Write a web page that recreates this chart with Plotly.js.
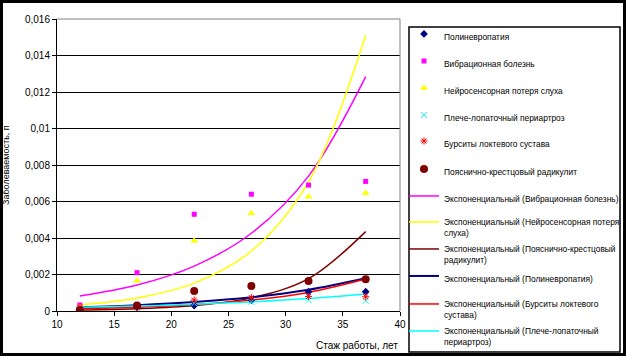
<!DOCTYPE html>
<html><head><meta charset="utf-8">
<script src="https://cdn.plot.ly/plotly-3.0.1.min.js"></script>
<style>
html,body{margin:0;padding:0;background:#fff;}
#chart{width:626px;height:356px;position:absolute;left:0;top:0;}
#frame{position:absolute;left:0;top:0;width:626px;height:356px;box-sizing:border-box;border-style:solid;border-color:#000;border-width:3px 3px 3px 3px;pointer-events:none;}
</style></head><body>
<div id="chart"></div><div id="frame"></div>
<script>
// Data
const stazh = [12, 17, 22, 27, 32, 37];
const polyneuropathy = [0.00005, 0.0002, 0.0003, 0.0006, 0.00106, 0.00106];
const vibration = [0.00033, 0.0021, 0.0053, 0.0064, 0.0069, 0.0071];
const neurosensory = [0.0002, 0.00166, 0.00385, 0.00535, 0.00626, 0.00645];
const shoulder = [0.0001, 0.0002, 0.00042, 0.0005, 0.0006, 0.00056];
const bursitis = [0.0002, 0.0002, 0.0006, 0.00073, 0.0008, 0.00078];
const radiculitis = [0.00005, 0.0003, 0.0011, 0.00137, 0.00164, 0.00174];
// Exponential trendlines
const trendVibration = [0.00082, 0.00142, 0.00246, 0.00426, 0.00739, 0.01284];
const trendNeurosensory = [0.00033, 0.00071, 0.00153, 0.00329, 0.00708, 0.01512];
const trendRadiculitis = [0.00005, 0.000121, 0.000296, 0.00072, 0.00177, 0.00435];
const trendPolyneuropathy = [0.00021, 0.00032, 0.00049, 0.00075, 0.00116, 0.00179];
const trendBursitis = [0.00012, 0.0002, 0.00035, 0.0006, 0.00102, 0.00175];
const trendShoulder = [0.0002, 0.00027, 0.00037, 0.0005, 0.00068, 0.00093];
const yTickVals = [0, 0.002, 0.004, 0.006, 0.008, 0.01, 0.012, 0.014, 0.016];
const yTickText = ["0", "0,002", "0,004", "0,006", "0,008", "0,01", "0,012", "0,014", "0,016"];
const xTickVals = [10, 15, 20, 25, 30, 35, 40];

const names = {
  poly: "Полиневропатия",
  vib: "Вибрационная болезнь",
  neuro: "Нейросенсорная потеря слуха",
  shoulder: "Плече-лопаточный периартроз",
  burs: "Бурситы локтевого сустава",
  rad: "Пояснично-крестцовый радикулит"
};

function legName(i) { return i === 1 ? 'legend' : 'legend' + i; }
function trend(y, color, width, name, idx) {
  return {x: stazh, y: y, mode: 'lines', line: {color: color, width: width, shape: 'spline'},
    name: name, legend: legName(idx)};
}
function pts(y, sym, color, size, name, idx, lineColor, lineW) {
  return {x: stazh, y: y, mode: 'markers', name: name, legend: legName(idx),
    marker: {symbol: sym, color: color, size: size, line: {color: lineColor || color, width: lineW || 0}}};
}

const data = [
  trend(trendVibration, '#FF00FF', 1.5, 'Экспоненциальный (Вибрационная болезнь)', 7),
  trend(trendNeurosensory, '#FFFF00', 1.5, 'Экспоненциальный (Нейросенсорная потеря<br>слуха)', 8),
  trend(trendRadiculitis, '#800000', 1.5, 'Экспоненциальный (Пояснично-крестцовый<br>радикулит)', 9),
  trend(trendPolyneuropathy, '#000080', 2, 'Экспоненциальный (Полиневропатия)', 10),
  trend(trendBursitis, '#FF0000', 1.5, 'Экспоненциальный (Бурситы локтевого<br>сустава)', 11),
  trend(trendShoulder, '#00FFFF', 1.5, 'Экспоненциальный (Плече-лопаточный<br>периартроз)', 12),
  pts(polyneuropathy, 'diamond', '#000080', 6, names.poly, 1),
  pts(vibration, 'square', '#FF00FF', 5, names.vib, 2),
  pts(neurosensory, 'triangle-up', '#FFFF00', 7, names.neuro, 3),
  pts(shoulder, 'x-thin-open', '#00FFFF', 6, names.shoulder, 4, '#00FFFF', 1),
  pts(bursitis, 'asterisk-open', '#FF0000', 6, names.burs, 5, '#FF0000', 1),
  pts(radiculitis, 'circle', '#800000', 8, names.rad, 6)
];

const L = 57, R = 400, T = 19, B = 311;
const pw = R - L, ph = B - T;
const px = v => (v - L) / pw;
const py = v => (B - v) / ph;

// first-line centres of legend entries (pixels)
const legendCentres = [37, 64, 91, 118, 144, 172, 199, 225, 252, 279, 307, 334];

const layout = {
  width: 626, height: 356,
  margin: {l: L, r: 626 - R, t: T, b: 356 - B, autoexpand: false},
  paper_bgcolor: '#fff', plot_bgcolor: '#fff',
  font: {family: 'Liberation Sans, Arial, sans-serif', size: 10, color: '#000'},
  showlegend: true,
  hovermode: false,
  xaxis: {range: [10, 40], tickvals: xTickVals, ticks: 'outside', ticklen: 4, tickcolor: '#000',
    showline: true, linecolor: '#000', linewidth: 1, showgrid: false, zeroline: false,
    tickfont: {size: 10}, fixedrange: true, automargin: false},
  yaxis: {range: [0, 0.016], tickvals: yTickVals, ticktext: yTickText, ticks: 'outside', ticklen: 4,
    tickcolor: '#000', showline: true, linecolor: '#000', linewidth: 1, showgrid: true,
    gridcolor: '#000', gridwidth: 1, zeroline: false, tickfont: {size: 10}, fixedrange: true, automargin: false},
  shapes: [
    {type: 'line', xref: 'paper', yref: 'paper', x0: 0, x1: 1, y0: 1, y1: 1, line: {color: '#808080', width: 1}},
    {type: 'line', xref: 'paper', yref: 'paper', x0: 1, x1: 1, y0: 0, y1: 1, line: {color: '#808080', width: 1}},
    {type: 'rect', xref: 'paper', yref: 'paper', x0: px(409), x1: px(620), y0: py(27), y1: py(352),
      line: {color: '#000', width: 1.5}}
  ],
  annotations: [
    {text: 'Стаж работы, лет', xref: 'paper', yref: 'paper', x: 1, y: py(345), xanchor: 'right',
      yanchor: 'middle', showarrow: false, font: {size: 10}},
    {text: 'Заболеваемость, п', xref: 'paper', yref: 'paper', x: px(6), y: 0.5, xanchor: 'center',
      yanchor: 'middle', textangle: -90, showarrow: false, font: {size: 9}}
  ]
};
legendCentres.forEach((c, k) => {
  layout[legName(k + 1)] = {
    x: px(404), y: py(c - 15), xanchor: 'left', yanchor: 'top', bgcolor: 'rgba(0,0,0,0)',
    borderwidth: 0, font: {size: 8.4, family: 'Liberation Sans, Arial, sans-serif'},
    valign: 'top', itemwidth: 30
  };
});
Plotly.newPlot('chart', data, layout, {displayModeBar: false, staticPlot: true});
</script></body></html>
